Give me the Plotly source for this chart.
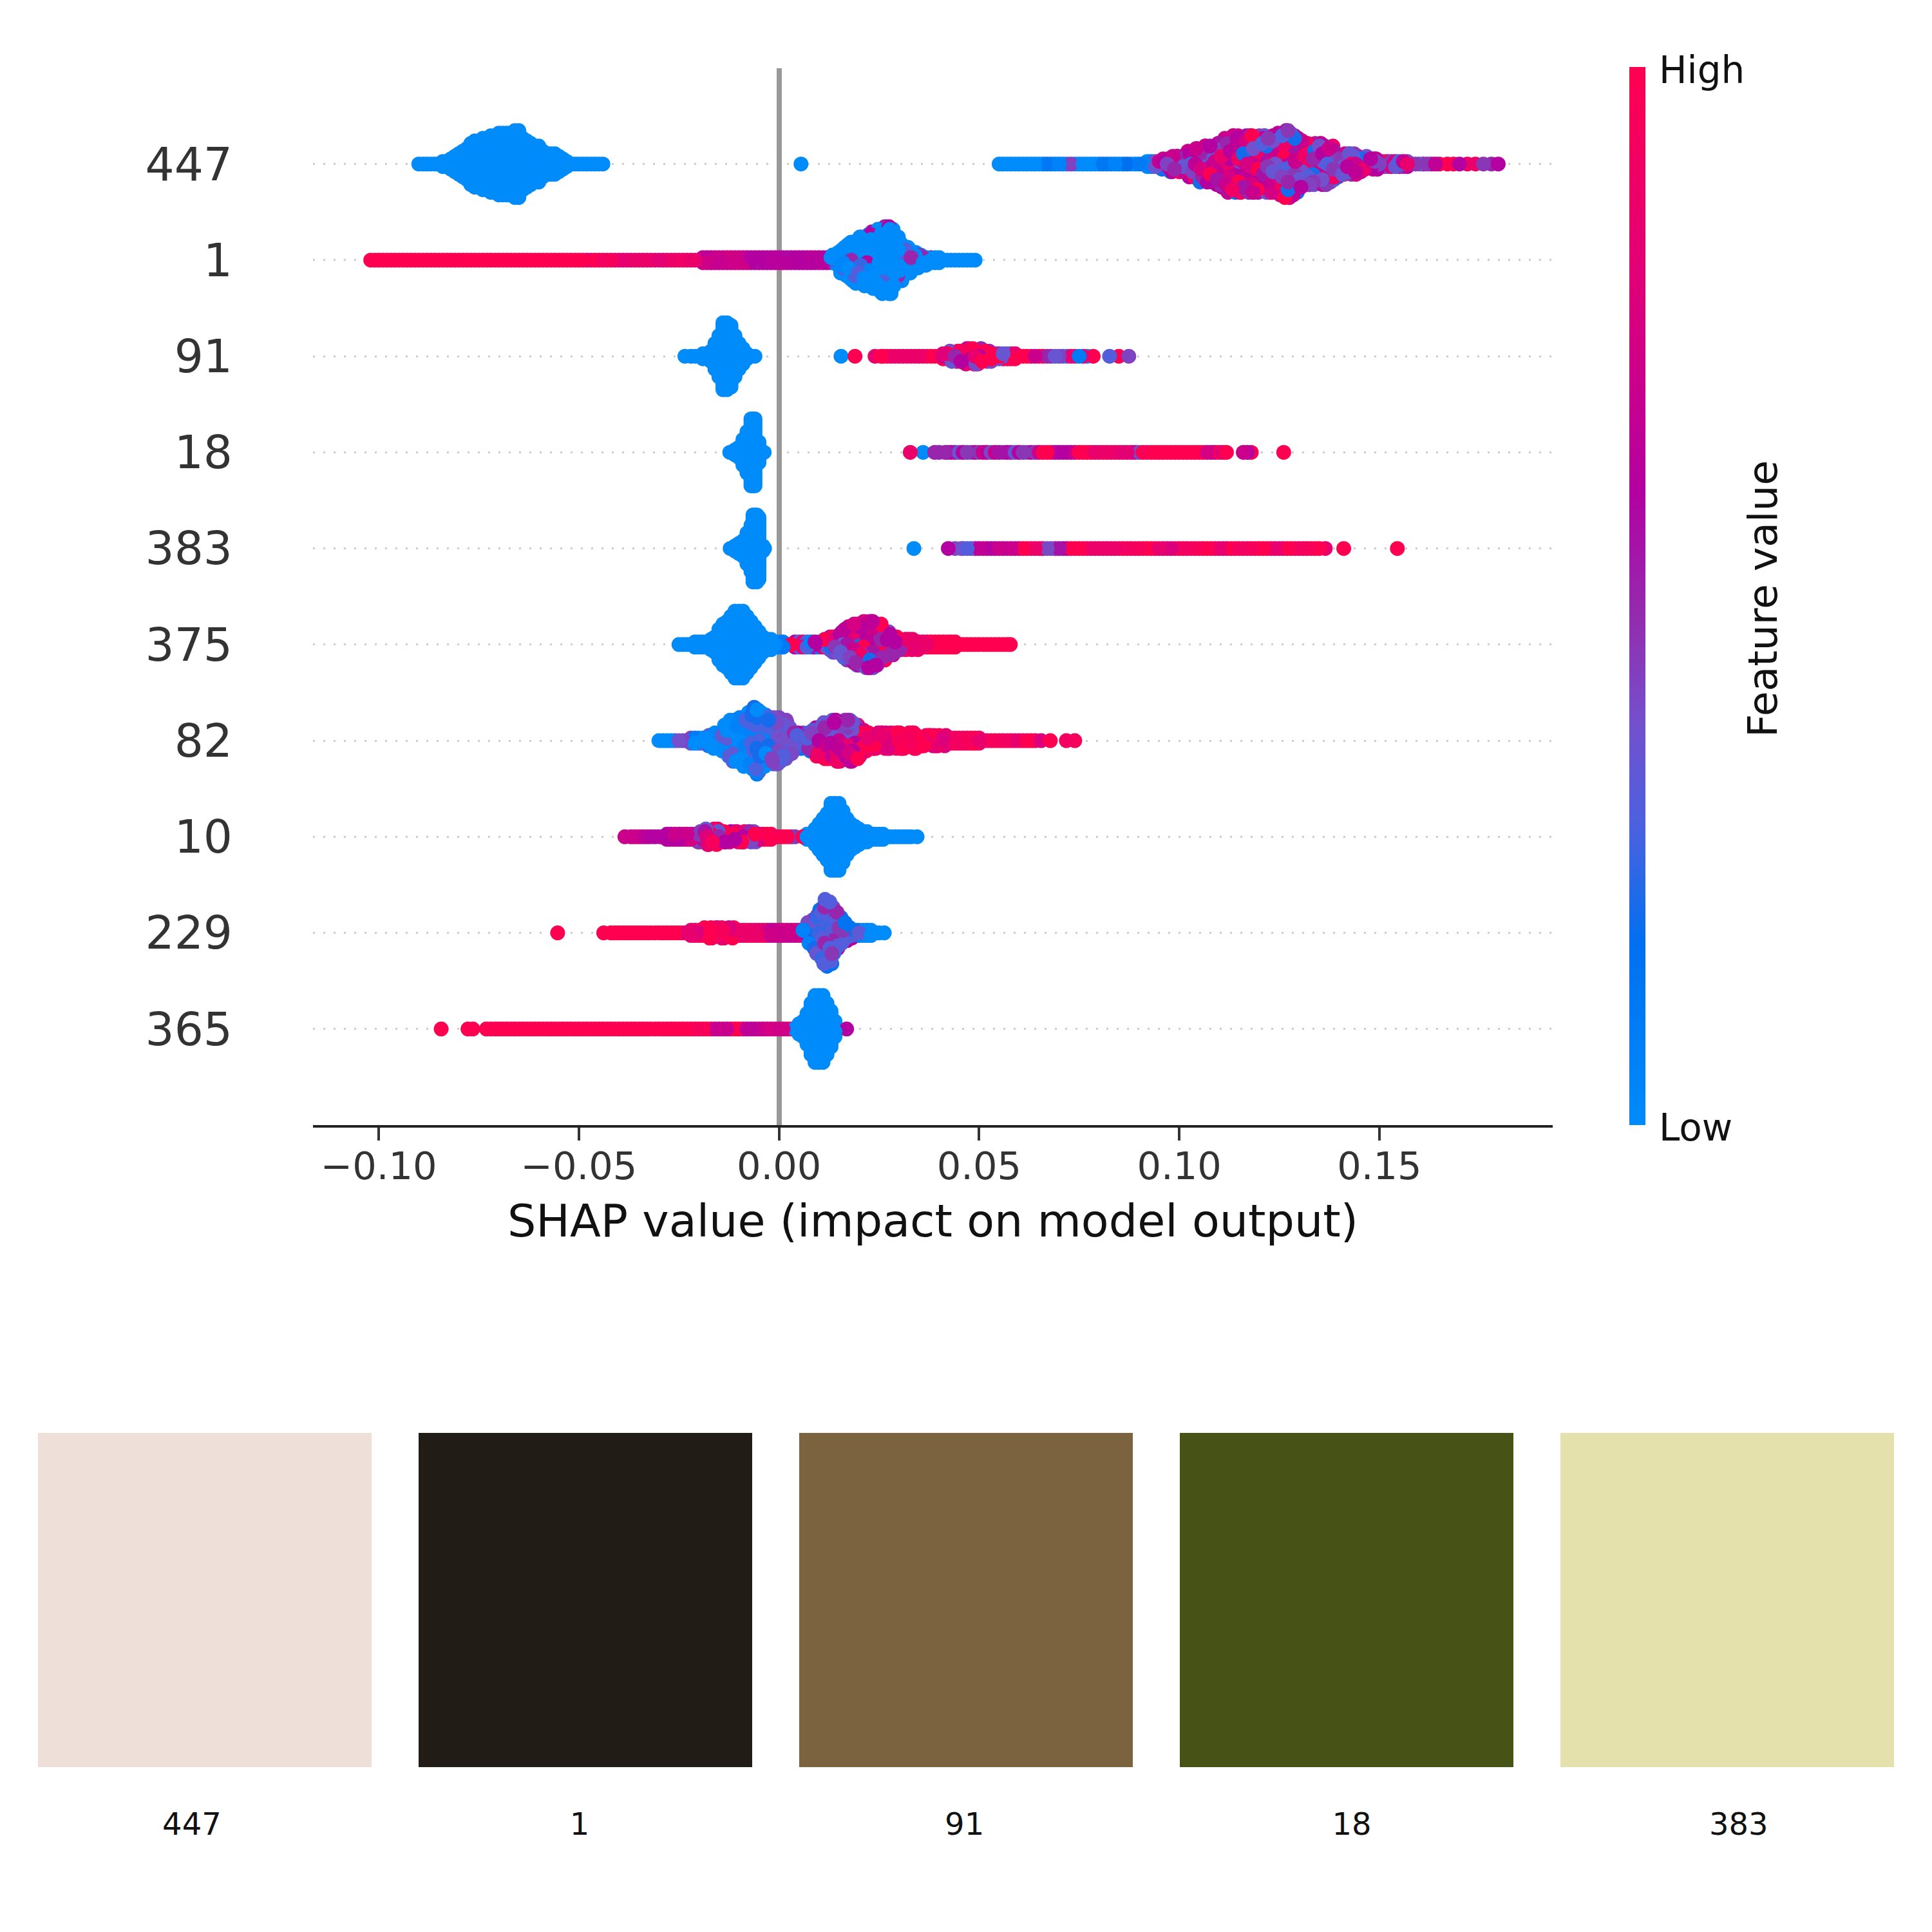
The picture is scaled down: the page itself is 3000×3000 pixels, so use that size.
import plotly.graph_objects as go

# ---------- categories ----------
ROW_LABELS = ["447", "1", "91", "18", "383", "375", "82", "10", "229", "365"]
SWATCH_LABELS = ["447", "1", "91", "18", "383"]
SWATCH_COLORS = ["#eee0d8", "#211c15", "#7c6340", "#465216", "#e5e1ad"]
X_TICKS = [-0.10, -0.05, 0.00, 0.05, 0.10, 0.15]

# ---------- swarm bins: SHAP value (in 1/1000), half-height of the stack (layers) ----------
R447_X = [-90,-88,-86,-84,-82,-80,-78,-76,-74,-72,-70,-68,-66,-64,-62,-60,-58,-56,-54,-52,-50,-48,-46,-44,5.5,55,
          56,58,60,62,64,66,68,70,72,74,76,78,80,82,84,86,88,90,
          92,94,96,98,100,102,104,106,108,110,112,114,116,118,120,122,124,126,128,130,132,134,136,138,140,142,144,146,148,150,152,154,156,158,160,162,164,
          167,168.5,170,172,174,176,178,179.7,
          -83,-81,-79,-77,-75,-73,-71,-69,-67,-65,-63,-61,-59,-57,-55,-53,
          93,95,97,99,101,103,105,107,109,111,113,115,117,119,121,123,125,127,129,131,133,135,137,139,141,143,145,147,149,151,153,155,157]
R447_H = [0,0,0,1,2,4,6,9,10,11,12,12,13,10,8,7,4,4,2,0,0,0,0,0,0,0,
          0,0,0,0,0,0,0,0,0,0,0,0,0,0,0,0,0,0,
          1,1,2,3,3,4,6,7,7,8,10,11,11,11,11,11,11,13,13,9,8,8,8,7,4,4,4,3,2,2,1,1,1,0,0,0,0,
          0,0,0,0,0,0,0,0,
          1,3,5,8,9,10,11,12,12,13,9,7,5,4,3,1,
          1,1,2,3,3,5,6,7,8,9,11,11,11,11,11,11,12,13,11,8,8,8,7,5,4,4,3,2,2,1,1,1,1]
R447_STRIP = [-89,-87,-85,-51,-49,-47,-45,57,59,61,63,65,67,69,71,73,75,77,79,81,83,85,87,89,91,159,161,163,165]
R447_ZONE_TO = [60, 71, 73, 88, 94, 158, 164, 168.6, 170.5, 174.5, 176.5, 178.5, 180]
R447_ZONE_PAL = "bBvBwmqrgfppg"

R1_X = [-102,-100,-98,-96,-94,-92,-90,-88,-86,-84,-82,-80,-78,-76,-74,-72,-70,-68,-66,-64,-62,-60,-58,-56,-54,-52,-50,-48,-46,-44,-42,-40,-38,-36,-34,-32,-30,-28,-26,-24,-22,
        -20,-18,-16,-14,-12,-10,-8,-6,-4,-2,0,2,4,6,8,10,12,14,16,18,20,22,24,26,28,30,32,34,36,38,40,42,44,46,48,49,
        -19,-17,-15,-13,-11,-9,-7,-5,-3,-1,1,3,5,7,9,11,13,15,17,19,21,23,25,27,29,31,33,35,37,39]
R1_H = [0,0,0,0,0,0,0,0,0,0,0,0,0,0,0,0,0,0,0,0,0,0,0,0,0,0,0,0,0,0,0,0,0,0,0,0,0,0,0,0,0,
        0,1,1,1,1,1,1,1,1,1,1,1,1,1,1,1,1,2,5,7,9,10,11,13,13,8,5,3,2,1,1,0,0,0,0,0,
        1,1,1,1,1,1,1,1,1,1,1,1,1,1,1,1,1,3,6,8,9,10,12,13,9,6,4,2,1,1]
R1_STRIP = [-101,-99,-97,-95,-93,-91,-89,-87,-85,-83,-81,-79,-77,-75,-73,-71,-69,-67,-65,-63,-61,-59,-57,-55,-53,-51,-49,-47,-45,-43,-41,-39,-37,-35,-33,-31,-29,-27,-25,-23,-21,41,43,45,47]
R1_ZONE_TO = [-50, -42, -20, -8, 12, 38, 50]
R1_ZONE_PAL = "refGAub"

R91_X = [-23.5,-21,-19,-17,-16,-15,-14,-13,-12,-11,-10,-9,-8,-7,-6,
         15.5,19,24,25.5,27,29,31,33,35,37,39,41,43,45,47,49,51,53,55,57,59,61,63,65,67,69,71,73,75,77,78.5,82.6,84.9,87.4,
         42,44,46,48,50,52,54,56,58]
R91_H = [0,0,1,2,5,8,13,13,12,8,5,3,1,0,0,
         0,0,0,0,0,0,0,0,0,0,0,1,2,2,3,3,2,2,1,1,1,0,0,0,0,0,0,0,0,0,0,0,0,0,
         1,2,2,3,3,2,1,1,1]
R91_STRIP = [-22,-20,26,28,30,32,34,36,38,40,60,62,64,66,68,70,72,74,76]
R91_ZONE_TO = [16, 20, 24.5, 26, 36, 69, 72, 74, 77.5, 79, 83, 85, 88]
R91_ZONE_PAL = "brfrfhvfwrvrv"

R18_X = [-12.3,-11,-10,-9,-8,-7,-6.5,-6,-5,-3.7,
         32.8,36,38.9,41.5,43,45,47,49,51,53,55,57,59,61,63,65,67,69,71,73,75,77,79,81,83,85,87,89,91,93,95,97,99,101,103,105,107,109,111,111.8,116,118,126.1]
R18_H = [0,1,2,5,8,13,13,13,4,0,
         0,0,0,0,0,0,0,0,0,0,0,0,0,0,0,0,0,0,0,0,0,0,0,0,0,0,0,0,0,0,0,0,0,0,0,0,0,0,0,0,0,0,0]
R18_STRIP = [40,42,44,46,48,50,52,54,56,58,60,62,64,66,68,70,72,74,76,78,80,82,84,86,88,90,92,94,96,98,100,102,104,106,108,110,117]
R18_ZONE_TO = [0, 34, 37, 42, 65, 68, 74, 78, 88, 92, 106, 109, 112, 117, 127]
R18_ZONE_PAL = "bfbpqrgrfhrgegr"

R383_X = [-12.2,-11,-10,-9,-8,-7,-6.5,-6,-5.5,-5,-4,-3.6,
          33.7,42.3,44,45.5,47,49,51,53,55,57,59,61,63,65,67,69,71,73,75,77,79,81,83,85,87,89,91,93,95,97,99,101,103,105,107,109,111,113,115,117,119,121,123,125,127,129,131,133,135,136.5,141.1,154.5]
R383_H = [0,1,2,3,6,9,13,13,13,12,1,0,
          0,0,0,0,0,0,0,0,0,0,0,0,0,0,0,0,0,0,0,0,0,0,0,0,0,0,0,0,0,0,0,0,0,0,0,0,0,0,0,0,0,0,0,0,0,0,0,0,0,0,0,0]
R383_STRIP = [46,48,50,52,54,56,58,60,62,64,66,68,70,72,74,76,78,80,82,84,86,88,90,92,94,96,98,100,102,104,106,108,110,112,114,116,118,120,122,124,126,128,130,132,134]
R383_ZONE_TO = [0, 34, 43, 48, 52, 60, 62, 66, 72, 76, 84, 136.6, 155]
R383_ZONE_PAL = "bbgvqgrfqrfer"

R375_X = [-25,-23,-21,-19,-17,-16,-15,-14,-13,-12,-11,-10,-9,-8,-7,-6,-5,-4,-3,-2,-1,0,1,
          3,5,7,9,11,13,15,17,19,21,23,25,27,29,31,33,35,37,39,41,43,45,47,49,51,53,55,57,57.8,
          -20,-18,4,6,8,10,12,14,16,18,20,22,24,26,28,30,32,34,36,38,40,42,44]
R375_H = [0,0,1,1,2,3,6,8,9,11,13,13,13,11,9,7,5,3,2,2,1,1,1,
          0,1,1,1,1,3,4,6,8,9,9,8,5,3,2,2,1,1,1,1,1,0,0,0,0,0,0,0,0,
          1,1,1,1,1,1,2,3,5,7,8,9,9,6,4,2,2,2,1,1,1,1,1]
R375_STRIP = [-24,-22,2,46,48,50,52,54,56]
R375_ZONE_TO = [0.5, 1.5, 3.5, 11, 23, 31, 37, 58]
R375_ZONE_PAL = "bwrwmhfr"

R82_X = [-30,-28,-26,-24,-22,-20,-18,-16,-14,-12,-10,-8,-6,-4,-2,0,2,4,6,8,10,12,14,16,18,20,22,24,26,28,30,32,34,36,38,40,42,44,46,48,50,
         52,54,56,58,60,62,64,65.5,67.8,71.8,73.9,
         -21,-19,-17,-15,-13,-11,-9,-7,-5,-3,-1,1,3,5,7,9,11,13,15,17,19,21,23,25,27,29,31,33,35,37,39,41,43,45,47,49]
R82_H = [0,0,0,0,1,1,2,3,4,8,9,10,13,10,9,9,7,3,3,4,6,7,8,8,8,6,3,3,3,3,3,3,3,2,2,2,1,1,1,1,1,
         0,0,0,0,0,0,0,0,0,0,0,
         1,1,2,3,6,8,9,11,12,9,9,8,5,3,3,5,6,7,8,8,7,4,3,3,3,3,3,3,2,2,2,2,1,1,1,1]
R82_STRIP = [-29,-27,-25,-23,51,53,55,57,59,61,63]
R82_ZONE_TO = [-27, -22, -3, 3, 8, 20, 30, 74]
R82_ZONE_PAL = "bvkvnmee"

R10_X = [-38.5,-36,-34,-32,-30,-28,-26,-24,-22,-20,-18,-16,-14,-12,-10,-8,-6,-4,-2,0,2,4,6,7,8,9,10,11,12,13,14,15,16,17,18,19,20,22,24,26,28,30,32,34.5,
         -27,-25,-23,-21,-19,-17,-15,-13,-11,-9,-7,-5,-3,21,23,25]
R10_H = [0,0,0,0,0,1,1,1,1,2,3,3,2,2,2,2,2,1,1,0,0,0,0,1,1,3,5,7,9,13,13,13,10,7,5,4,3,2,1,1,0,0,0,0,
         1,1,1,1,2,3,2,2,2,2,2,1,1,2,1,1]
R10_STRIP = [-37,-35,-33,-31,-29,-1,1,3,27,29,31,33]
R10_ZONE_TO = [-22, -19, -6, 1, 2.5, 4.5, 6.5, 35]
R10_ZONE_PAL = "gqherprb"

R229_X = [-55.3,-43.8,-42,-40,-38,-36,-34,-32,-30,-28,-26,-24,-22,-20,-18,-16,-14,-12,-10,-8,-6,-4,-2,0,2,4,6,7,8,9,10,11,12,13,14,15,16,17,18,19,20,22,24,26.3,
          -21,-19,-17,-15,-13,-11,-9,-7,-5,-3,-1,1,3,5,21,23]
R229_H = [0,0,0,0,0,0,0,0,0,0,0,0,1,1,2,2,2,2,1,1,1,1,1,1,1,1,1,2,4,6,8,10,13,12,8,6,4,3,2,1,1,1,0,0,
          1,1,2,2,2,1,1,1,1,1,1,1,1,1,1,1]
R229_STRIP = [-41,-39,-37,-35,-33,-31,-29,-27,-25,-23,25]
R229_ZONE_TO = [-24, -12, -4, 5, 19, 22.5, 27]
R229_ZONE_PAL = "refGnkb"

R365_X = [-84.4,-77.7,-76.5,-73.1,-72,-70,-68,-66,-64,-62,-60,-58,-56,-54,-52,-50,-48,-46,-44,-42,-40,-38,-36,-34,-32,-30,-28,-26,-24,-22,-20,-18,-16,-14,-12,-10,-8,-6,-4,-2,0,2,
          3.9,5,6,7,8,9,10,11,12,13,14,16.9]
R365_H = [0,0,0,0,0,0,0,0,0,0,0,0,0,0,0,0,0,0,0,0,0,0,0,0,0,0,0,0,0,0,0,0,0,0,0,0,0,0,0,0,0,0,
          0,2,3,6,10,13,13,13,10,7,3,0]
R365_STRIP = [-71,-69,-67,-65,-63,-61,-59,-57,-55,-53,-51,-49,-47,-45,-43,-41,-39,-37,-35,-33,-31,-29,-27,-25,-23,-21,-19,-17,-15,-13,-11,-9,-7,-5,-3,-1,1,3]
R365_ZONE_TO = [-22, -17, -13, -10, 1, 3, 14.5, 17]
R365_ZONE_PAL = "reGrGfbg"

# colour levels (feature value, 0 = low, 1 = high) seen in each kind of stretch of a row
PALETTES = {
    "b": [0.0],
    "r": [1.0],
    "B": [0.0, 0.05, 0.12, 0.0, 0.17, 0.08, 0.0],
    "e": [1.0, 0.85, 1.0, 0.92, 0.78, 1.0, 0.95],
    "f": [0.87, 0.84, 0.9, 0.82, 0.87],
    "g": [0.7, 0.65, 0.6, 0.75, 0.6],
    "G": [0.72, 0.68, 0.75, 0.65, 0.7],
    "A": [0.62, 0.6, 0.65, 0.58, 0.6],
    "p": [0.55, 0.5, 0.6, 0.45, 0.5],
    "q": [0.6, 0.4, 0.65, 0.35, 0.55, 0.7, 0.45],
    "v": [0.38, 0.33, 0.4, 0.3, 0.42],
    "w": [0.05, 0.6, 0.35, 0.1, 0.85, 0.3, 0.0],
    "m": [0.62, 0.35, 0.7, 0.85, 0.45, 0.55, 0.7, 0.3, 1.0, 0.6, 0.38, 0.75, 0.5, 0.2, 0.65, 0.42, 0.9],
    "h": [1.0, 0.7, 0.85, 0.4, 1.0, 0.6, 0.95, 0.5, 0.8, 1.0, 0.35],
    "u": [0.0, 0.0, 0.0, 0.0, 0.03, 0.0, 0.0, 0.25, 0.0, 0.0, 0.5, 0.0, 0.0, 0.6, 0.0, 0.3, 0.0],
    "k": [0.0, 0.02, 0.2, 0.0, 0.28, 0.0, 0.05, 0.3, 0.0, 0.1, 0.33],
    "n": [0.3, 0.4, 0.25, 0.15, 0.35, 0.45, 0.2, 0.3, 0.05, 0.5, 0.6],
}
# how far, in 1/1000, the points of a mixed column sit from the bin centre
SUBBIN = [0.0, -0.6, 0.5, -0.3, 0.7, -0.8, 0.2, 0.4, -0.5, 0.8, -0.2]

ROWS = [
    (R447_X, R447_H, R447_STRIP, R447_ZONE_TO, R447_ZONE_PAL),
    (R1_X, R1_H, R1_STRIP, R1_ZONE_TO, R1_ZONE_PAL),
    (R91_X, R91_H, R91_STRIP, R91_ZONE_TO, R91_ZONE_PAL),
    (R18_X, R18_H, R18_STRIP, R18_ZONE_TO, R18_ZONE_PAL),
    (R383_X, R383_H, R383_STRIP, R383_ZONE_TO, R383_ZONE_PAL),
    (R375_X, R375_H, R375_STRIP, R375_ZONE_TO, R375_ZONE_PAL),
    (R82_X, R82_H, R82_STRIP, R82_ZONE_TO, R82_ZONE_PAL),
    (R10_X, R10_H, R10_STRIP, R10_ZONE_TO, R10_ZONE_PAL),
    (R229_X, R229_H, R229_STRIP, R229_ZONE_TO, R229_ZONE_PAL),
    (R365_X, R365_H, R365_STRIP, R365_ZONE_TO, R365_ZONE_PAL),
]

COLORSCALE = [
    [0.0, "#008bfb"], [0.17, "#0070f0"], [0.28, "#4a62e0"], [0.38, "#7450cc"],
    [0.47, "#9030b0"], [0.6, "#b400a0"], [0.8, "#e00078"], [1.0, "#ff0051"],
]

W = H = 3000
PX_PER_ROW = 149.4
LAYER = 4.0 / PX_PER_ROW
PX_PER_UNIT = 6215

fig = go.Figure()

for r, (xs, hs, strip, zone_to, zone_pal) in enumerate(ROWS):
    base = len(ROWS) - 1 - r
    assert len(xs) == len(hs), (r, len(xs), len(hs))
    pts = []
    for k, (x, h) in enumerate(zip(list(xs) + list(strip), list(hs) + [0] * len(strip))):
        z = next((i for i, t in enumerate(zone_to) if x <= t), len(zone_to) - 1)
        pal = PALETTES[zone_pal[z]]
        layer_ids = [0]
        for j in range(1, h + 1):
            layer_ids += [j, -j]
        for idx, j in enumerate(layer_ids):
            order = (k * 29 + idx * 17) % 97
            sub = SUBBIN[(k + idx * 3) % len(SUBBIN)] if (len(pal) > 3 and abs(j) >= 2) else 0.0
            pts.append((order, (x + sub) / 1000.0, base + j * LAYER, pal[(k * 3 + idx * 7) % len(pal)]))
    pts.sort(key=lambda p: p[0])
    fig.add_trace(go.Scatter(
        x=[p[1] for p in pts], y=[p[2] for p in pts], mode="markers",
        marker=dict(size=23, color=[p[3] for p in pts], coloraxis="coloraxis", line=dict(width=0)),
        showlegend=False, hoverinfo="skip", xaxis="x", yaxis="y",
    ))

fig.add_trace(go.Bar(
    x=list(range(len(SWATCH_LABELS))), y=[1] * len(SWATCH_LABELS), width=518 / 591,
    marker=dict(color=SWATCH_COLORS, line=dict(width=0)),
    showlegend=False, hoverinfo="skip", xaxis="x2", yaxis="y2",
))

FONT = "DejaVu Sans"
fig.update_layout(
    width=W, height=H, autosize=False, paper_bgcolor="white", plot_bgcolor="white",
    margin=dict(l=0, r=0, t=0, b=0, pad=0, autoexpand=False),
    font=dict(family=FONT, color="#333333"),
    xaxis=dict(
        domain=[486 / W, 2411 / W], range=[(486 - 1209.6) / PX_PER_UNIT, (2411 - 1209.6) / PX_PER_UNIT],
        anchor="y", tickvals=X_TICKS, tickformat=".2f",
        tickfont=dict(size=59, color="#333333"), ticks="outside", ticklen=20, tickwidth=4,
        tickcolor="#333333", showline=True, linecolor="#222222", linewidth=4,
        showgrid=False, zeroline=True, zerolinecolor="#999999", zerolinewidth=8,
        title=dict(text="SHAP value (impact on model output)", font=dict(size=70, color="#111111"), standoff=28),
        ticklabelstandoff=-11,
    ),
    yaxis=dict(
        domain=[(H - 1747) / H, (H - 105.5) / H], range=[-1, 10], anchor="x",
        tickvals=list(range(len(ROW_LABELS))), ticktext=ROW_LABELS[::-1],
        tickfont=dict(size=71, color="#333333"), ticks="", showline=False, zeroline=False,
        showgrid=True, gridcolor="#cccccc", gridwidth=3, griddash="3px,13px",
        ticklabelstandoff=124,
    ),
    xaxis2=dict(
        domain=[59 / W, 2941 / W], range=[-518 / 591 / 2, 4 + 518 / 591 / 2], anchor="y2",
        tickvals=[-0.034, 0.985, 1.996, 3.0135, 4.03], ticktext=SWATCH_LABELS,
        tickfont=dict(size=48, color="#111111"), ticks="", showline=False, showgrid=False, zeroline=False,
        ticklabelstandoff=56,
    ),
    yaxis2=dict(
        domain=[(H - 2744) / H, (H - 2225) / H], range=[0, 1], anchor="x2",
        visible=False,
    ),
    coloraxis=dict(
        cmin=0, cmax=1, colorscale=COLORSCALE,
        colorbar=dict(
            x=2530 / W, xanchor="left", xref="container", thickness=25, thicknessmode="pixels",
            y=(H - 1747) / H, yanchor="bottom", yref="container", len=(1747 - 104) / H, lenmode="fraction",
            showticklabels=False, ticks="", outlinewidth=0, borderwidth=0, xpad=0, ypad=0,
        ),
    ),
    annotations=[
        dict(text="Feature value", xref="paper", yref="paper", x=2737 / W, y=(H - 930) / H,
             xanchor="center", yanchor="middle", textangle=-90, showarrow=False,
             font=dict(size=63, color="#111111")),
        dict(text="High", xref="paper", yref="paper", x=2574 / W, y=(H - 109) / H,
             xanchor="left", yanchor="middle", showarrow=False, font=dict(size=58, color="#111111")),
        dict(text="Low", xref="paper", yref="paper", x=2574 / W, y=(H - 1751) / H,
             xanchor="left", yanchor="middle", showarrow=False, font=dict(size=58, color="#111111")),
    ],
)

fig.write_html("out.html", post_script="document.body.style.margin='0';", config={"displayModeBar": False})
